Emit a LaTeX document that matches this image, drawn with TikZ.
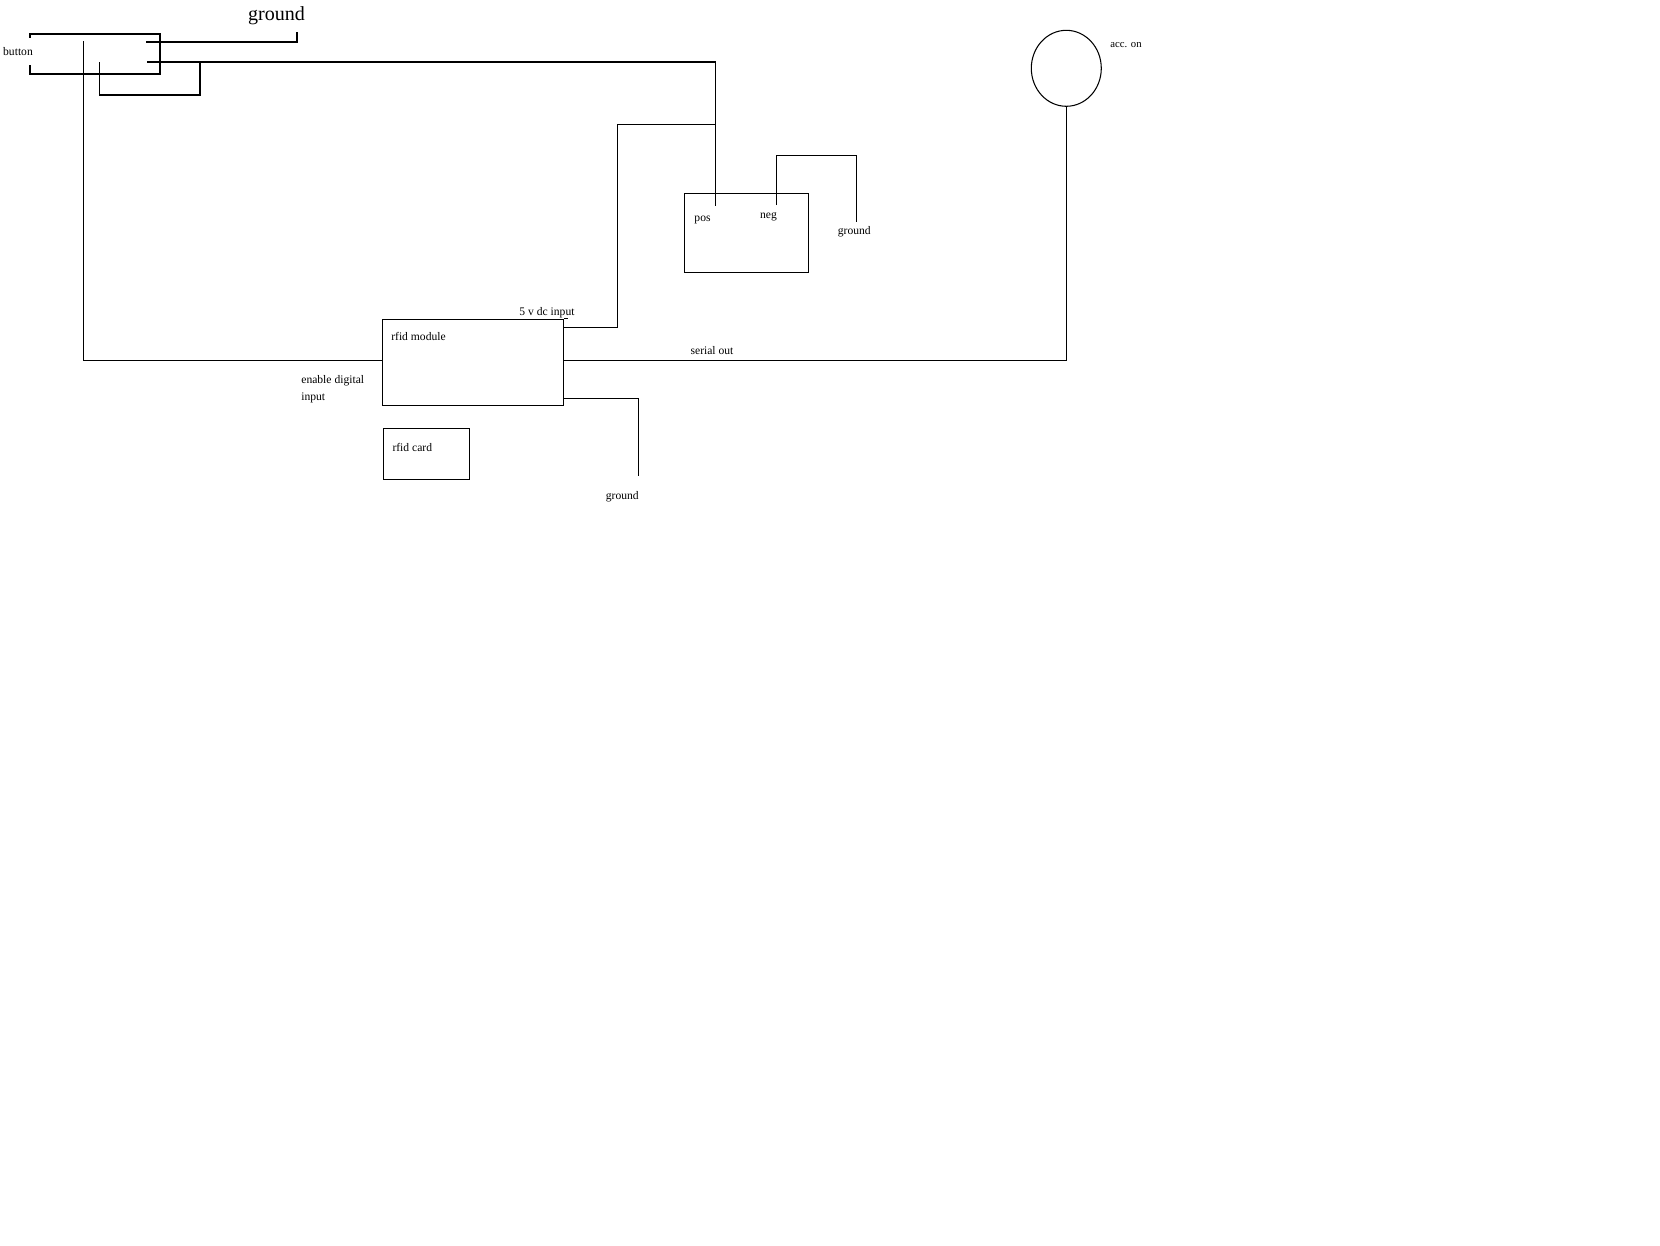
\documentclass[tikz,border=0pt]{standalone}
\usepackage{fontspec}
\setmainfont{Liberation Serif}
\usetikzlibrary{shapes.geometric, positioning}

\begin{document}
\begin{tikzpicture}[x=0.02cm, y=-0.02cm,
    block/.style={rectangle, draw, line width=0.75pt, inner sep=0pt},
    lamp/.style={ellipse, draw, line width=0.6pt, inner sep=0pt, minimum width=1.4cm, minimum height=1.52cm},
    wire/.style={line width=0.75pt},
    label/.style={inner sep=0pt, font=\fontsize{6.6}{8}\selectfont}]

    \useasboundingbox (0,0) rectangle (1660,1245);

    % Boxes
    \node [block, minimum width=2.6cm, minimum height=0.8cm] (switch) at (95,54) {};
    \node [block, minimum width=3.63cm, minimum height=1.72cm] (rfid) at (473,362.3) {};
    \node [block, minimum width=1.73cm, minimum height=1.02cm] (card) at (426.5,453.8) {};
    \node [block, minimum width=2.48cm, minimum height=1.58cm] (buzzer) at (746.3,232.8) {};
    \node [lamp] (lamp) at (1066.3,68.3) {};

    % Wire ends
    \coordinate (swground) at (146,42);
    \coordinate (swpower) at (147,62);
    \coordinate (swloop) at (99.5,62);
    \coordinate (swenable) at (83.5,41);
    \coordinate (topground) at (297,32);
    \coordinate (pospin) at (715.7,206);
    \coordinate (negpin) at (776.3,205);
    \coordinate (negground) at (856.3,222);
    \coordinate (rfidground) at (638.3,476);
    \coordinate (rfidenable) at (382.3,360.3);
    \coordinate (rfidserial) at (563.7,360.3);
    \coordinate (rfidpower) at (563.7,327.3);
    \coordinate (rfidgnd) at (563.7,398.3);

    % Wires
    \draw [wire] (swground) -- (297,42) -- (topground);
    \draw [wire] (swpower) -- (715.7,62) -- (pospin);
    \draw [wire] (swloop) -- (99.5,95) -- (200,95) -- (200,62);
    \draw [wire] (swenable) -- (83.5,360.3) -- (rfidenable);
    \draw [wire] (rfidpower) -- (617.5,327.3) -- (617.5,124.7) -- (716,124.7);
    \draw [wire] (rfidserial) -- (1066.3,360.3) -- (lamp.south);
    \draw [wire] (rfidgnd) -- (638.3,398.3) -- (rfidground);
    \draw [wire] (negpin) -- (776.3,155.3) -- (856.3,155.3) -- (negground);
    \draw [wire] (rfid.north east) -- +(4,0);

    % Labels
    \node [label, fill=white, inner ysep=0.18cm] (buttontext) at (18,51.5) {button};
    \node [label, font=\fontsize{11.4}{13}\selectfont] (groundtop) at (276.5,16) {ground};
    \node [label] (postext) at (702.5,220) {pos};
    \node [label] (negtext) at (768.5,217) {neg};
    \node [label] (groundneg) at (854.3,231.5) {ground};
    \node [label, font=\fontsize{6.1}{8}\selectfont] (acctext) at (1126,45.5) {acc. on};
    \node [label] (dctext) at (547,312.5) {5 v dc input};
    \node [label] (modtext) at (418.5,336) {rfid module};
    \node [label] (serialtext) at (712,351) {serial out};
    \node [label, anchor=west] (enabletext) at (301,381) {enable digital};
    \node [label, anchor=west] (inputtext) at (301,398) {input};
    \node [label] (cardtext) at (412.3,447) {rfid card};
    \node [label] (groundrfid) at (622.3,497) {ground};
\end{tikzpicture}
\end{document}
